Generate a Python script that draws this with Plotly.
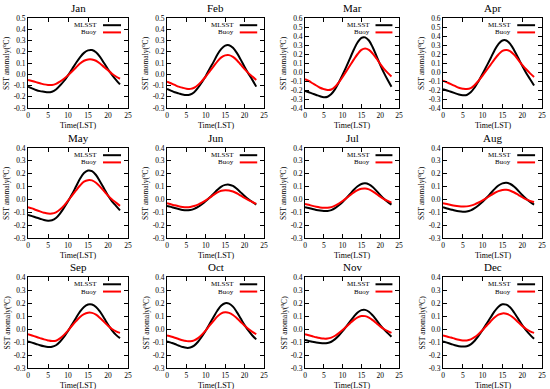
import plotly.graph_objects as go

hours = list(range(24))
months = ["Jan", "Feb", "Mar", "Apr", "May", "Jun", "Jul", "Aug", "Sep", "Oct", "Nov", "Dec"]
x_ticks = [0, 5, 10, 15, 20, 25]

jan_mlsst = [-0.11, -0.125, -0.14, -0.15, -0.155, -0.16, -0.155, -0.135, -0.10, -0.06, -0.01, 0.045, 0.10, 0.15, 0.19, 0.212, 0.215, 0.195, 0.155, 0.10, 0.045, -0.005, -0.05, -0.09]
jan_buoy = [-0.05, -0.06, -0.07, -0.08, -0.09, -0.095, -0.095, -0.085, -0.065, -0.04, -0.01, 0.025, 0.06, 0.095, 0.12, 0.132, 0.132, 0.12, 0.095, 0.065, 0.035, 0.005, -0.02, -0.04]
feb_mlsst = [-0.13, -0.145, -0.16, -0.17, -0.18, -0.185, -0.18, -0.16, -0.12, -0.07, -0.015, 0.05, 0.11, 0.175, 0.225, 0.255, 0.258, 0.235, 0.19, 0.13, 0.065, 0.005, -0.05, -0.11]
feb_buoy = [-0.065, -0.08, -0.095, -0.11, -0.12, -0.128, -0.13, -0.12, -0.095, -0.06, -0.02, 0.025, 0.07, 0.115, 0.15, 0.168, 0.17, 0.155, 0.125, 0.085, 0.045, 0.01, -0.02, -0.05]
mar_mlsst = [-0.21, -0.225, -0.24, -0.255, -0.27, -0.28, -0.275, -0.245, -0.19, -0.115, -0.03, 0.06, 0.155, 0.25, 0.33, 0.38, 0.385, 0.35, 0.275, 0.18, 0.08, -0.01, -0.09, -0.165]
mar_buoy = [-0.08, -0.10, -0.125, -0.15, -0.175, -0.19, -0.20, -0.195, -0.165, -0.115, -0.055, 0.01, 0.075, 0.14, 0.20, 0.245, 0.26, 0.245, 0.205, 0.15, 0.09, 0.035, -0.01, -0.05]
apr_mlsst = [-0.19, -0.205, -0.22, -0.235, -0.25, -0.258, -0.255, -0.225, -0.17, -0.10, -0.02, 0.065, 0.15, 0.24, 0.31, 0.35, 0.35, 0.31, 0.24, 0.155, 0.07, -0.01, -0.08, -0.15]
apr_buoy = [-0.095, -0.115, -0.135, -0.155, -0.175, -0.185, -0.19, -0.18, -0.145, -0.095, -0.04, 0.02, 0.08, 0.14, 0.195, 0.235, 0.245, 0.23, 0.19, 0.135, 0.08, 0.03, -0.015, -0.055]
may_mlsst = [-0.12, -0.13, -0.14, -0.15, -0.16, -0.165, -0.162, -0.145, -0.11, -0.065, -0.015, 0.04, 0.10, 0.16, 0.205, 0.225, 0.22, 0.19, 0.14, 0.085, 0.03, -0.015, -0.05, -0.085]
may_buoy = [-0.06, -0.07, -0.082, -0.093, -0.103, -0.11, -0.11, -0.10, -0.078, -0.048, -0.01, 0.03, 0.07, 0.108, 0.138, 0.15, 0.148, 0.13, 0.10, 0.065, 0.03, 0.0, -0.025, -0.05]
jun_mlsst = [-0.05, -0.058, -0.067, -0.075, -0.082, -0.085, -0.082, -0.073, -0.058, -0.038, -0.013, 0.015, 0.045, 0.075, 0.10, 0.113, 0.115, 0.105, 0.083, 0.055, 0.027, 0.002, -0.02, -0.04]
jun_buoy = [-0.03, -0.038, -0.046, -0.053, -0.058, -0.06, -0.058, -0.051, -0.04, -0.025, -0.007, 0.013, 0.035, 0.055, 0.068, 0.072, 0.07, 0.062, 0.048, 0.03, 0.012, -0.005, -0.02, -0.035]
jul_mlsst = [-0.06, -0.067, -0.075, -0.082, -0.087, -0.09, -0.09, -0.083, -0.068, -0.046, -0.02, 0.01, 0.042, 0.075, 0.102, 0.12, 0.125, 0.117, 0.097, 0.067, 0.035, 0.005, -0.02, -0.04]
jul_buoy = [-0.035, -0.042, -0.05, -0.057, -0.062, -0.065, -0.065, -0.06, -0.048, -0.032, -0.012, 0.01, 0.033, 0.055, 0.073, 0.083, 0.085, 0.078, 0.063, 0.043, 0.022, 0.003, -0.012, -0.025]
aug_mlsst = [-0.06, -0.07, -0.078, -0.086, -0.092, -0.095, -0.093, -0.085, -0.068, -0.045, -0.018, 0.013, 0.046, 0.08, 0.108, 0.125, 0.13, 0.12, 0.098, 0.068, 0.035, 0.005, -0.02, -0.04]
aug_buoy = [-0.03, -0.036, -0.043, -0.049, -0.053, -0.055, -0.054, -0.048, -0.038, -0.024, -0.008, 0.011, 0.031, 0.05, 0.065, 0.074, 0.075, 0.068, 0.054, 0.036, 0.017, 0.0, -0.012, -0.02]
sep_mlsst = [-0.095, -0.105, -0.115, -0.125, -0.133, -0.138, -0.137, -0.125, -0.098, -0.06, -0.015, 0.035, 0.085, 0.133, 0.17, 0.188, 0.188, 0.17, 0.133, 0.085, 0.035, -0.01, -0.045, -0.07]
sep_buoy = [-0.04, -0.05, -0.06, -0.07, -0.08, -0.088, -0.093, -0.09, -0.072, -0.045, -0.012, 0.025, 0.06, 0.093, 0.115, 0.125, 0.124, 0.11, 0.085, 0.055, 0.025, 0.0, -0.018, -0.03]
oct_mlsst = [-0.095, -0.105, -0.115, -0.127, -0.138, -0.145, -0.143, -0.128, -0.098, -0.058, -0.012, 0.04, 0.092, 0.142, 0.18, 0.198, 0.195, 0.172, 0.13, 0.08, 0.03, -0.013, -0.05, -0.08]
oct_buoy = [-0.05, -0.058, -0.067, -0.077, -0.087, -0.093, -0.095, -0.088, -0.07, -0.043, -0.01, 0.027, 0.063, 0.097, 0.12, 0.128, 0.124, 0.108, 0.083, 0.054, 0.025, 0.0, -0.022, -0.04]
nov_mlsst = [-0.085, -0.092, -0.098, -0.104, -0.108, -0.11, -0.108, -0.098, -0.078, -0.05, -0.017, 0.02, 0.058, 0.095, 0.127, 0.145, 0.147, 0.133, 0.105, 0.068, 0.03, -0.003, -0.032, -0.06]
nov_buoy = [-0.04, -0.048, -0.056, -0.064, -0.07, -0.074, -0.073, -0.066, -0.052, -0.032, -0.008, 0.018, 0.045, 0.07, 0.09, 0.10, 0.099, 0.088, 0.068, 0.044, 0.02, 0.0, -0.016, -0.03]
dec_mlsst = [-0.095, -0.105, -0.115, -0.125, -0.132, -0.135, -0.132, -0.118, -0.09, -0.052, -0.008, 0.04, 0.088, 0.135, 0.172, 0.19, 0.187, 0.165, 0.125, 0.078, 0.03, -0.01, -0.045, -0.075]
dec_buoy = [-0.05, -0.058, -0.066, -0.075, -0.083, -0.088, -0.088, -0.08, -0.063, -0.038, -0.008, 0.025, 0.058, 0.088, 0.11, 0.12, 0.118, 0.104, 0.08, 0.052, 0.024, 0.0, -0.018, -0.03]

mlsst = [jan_mlsst, feb_mlsst, mar_mlsst, apr_mlsst, may_mlsst, jun_mlsst,
         jul_mlsst, aug_mlsst, sep_mlsst, oct_mlsst, nov_mlsst, dec_mlsst]
buoy = [jan_buoy, feb_buoy, mar_buoy, apr_buoy, may_buoy, jun_buoy,
        jul_buoy, aug_buoy, sep_buoy, oct_buoy, nov_buoy, dec_buoy]
y_ranges = [(-0.3, 0.5), (-0.3, 0.5), (-0.4, 0.6), (-0.4, 0.6)] + [(-0.3, 0.4)] * 8

W, H = 550, 389
col_px = [(28, 128), (167, 264), (305, 399), (443, 542)]
row_px = [(18, 108), (148, 238), (277, 368)]

FONT = "Liberation Serif, Times New Roman, serif"
fig = go.Figure()
layout = dict(width=W, height=H, margin=dict(l=0, r=0, t=0, b=0),
              paper_bgcolor="white", plot_bgcolor="white", showlegend=False,
              font=dict(family=FONT, color="black", size=8))
annotations = []
shapes = []

for i, m in enumerate(months):
    r, c = divmod(i, 4)
    n = "" if i == 0 else str(i + 1)
    xa, ya = "x" + n, "y" + n
    fig.add_trace(go.Scatter(x=hours, y=mlsst[i], mode="lines", line=dict(color="black", width=2, shape="spline"),
                             xaxis=xa, yaxis=ya, name="MLSST"))
    fig.add_trace(go.Scatter(x=hours, y=buoy[i], mode="lines", line=dict(color="red", width=2, shape="spline"),
                             xaxis=xa, yaxis=ya, name="Buoy"))
    lo, hi = y_ranges[i]
    nt = int(round((hi - lo) / 0.1))
    yt = [round(lo + 0.1 * k, 1) for k in range(nt + 1)]
    x0, x1 = col_px[c]
    yt0, yb0 = row_px[r]
    layout["xaxis" + n] = dict(domain=[x0 / W, x1 / W], range=[0, 25], tickvals=x_ticks,
                               ticks="inside", ticklen=4, tickcolor="black", mirror="allticks",
                               showline=True, linecolor="black", linewidth=1, showgrid=False, zeroline=False,
                               tickfont=dict(size=7.5, family=FONT), anchor=ya, automargin=False)
    layout["yaxis" + n] = dict(domain=[1 - yb0 / H, 1 - yt0 / H], range=[lo, hi], tickvals=yt,
                               ticktext=[f"{v:.1f}" for v in yt],
                               ticks="inside", ticklen=4, tickcolor="black", mirror="allticks",
                               showline=True, linecolor="black", linewidth=1, showgrid=False, zeroline=False,
                               tickfont=dict(size=7.5, family=FONT), anchor=xa, automargin=False)
    xd, yd = xa + " domain", ya + " domain"
    annotations.append(dict(text=m, xref=xd, yref=yd, x=0.5, y=1, yshift=2, yanchor="bottom",
                            showarrow=False, font=dict(size=11, family=FONT)))
    annotations.append(dict(text="Time(LST)", xref=xd, yref=yd, x=0.5, y=0, yshift=-11, yanchor="top",
                            showarrow=False, font=dict(size=8, family=FONT)))
    annotations.append(dict(text="SST anomaly(<sup>o</sup>C)", xref=xd, yref=yd, x=0, xshift=-22, y=0.5,
                            xanchor="center", textangle=-90, showarrow=False, font=dict(size=7.5, family=FONT)))
    for k, (lab, col) in enumerate([("MLSST", "black"), ("Buoy", "red")]):
        yy = 0.92 - 0.08 * k
        annotations.append(dict(text=lab, xref=xd, yref=yd, x=0.71, y=yy, xanchor="right", yanchor="middle",
                                showarrow=False, font=dict(size=7, family=FONT)))
        shapes.append(dict(type="line", xref=xd, yref=yd, x0=0.75, x1=0.93, y0=yy, y1=yy,
                           line=dict(color=col, width=2)))

layout["annotations"] = annotations
layout["shapes"] = shapes
fig.update_layout(**layout)
fig.write_html("out.html", config={"displayModeBar": False},
               post_script="document.body.style.margin='0';")
